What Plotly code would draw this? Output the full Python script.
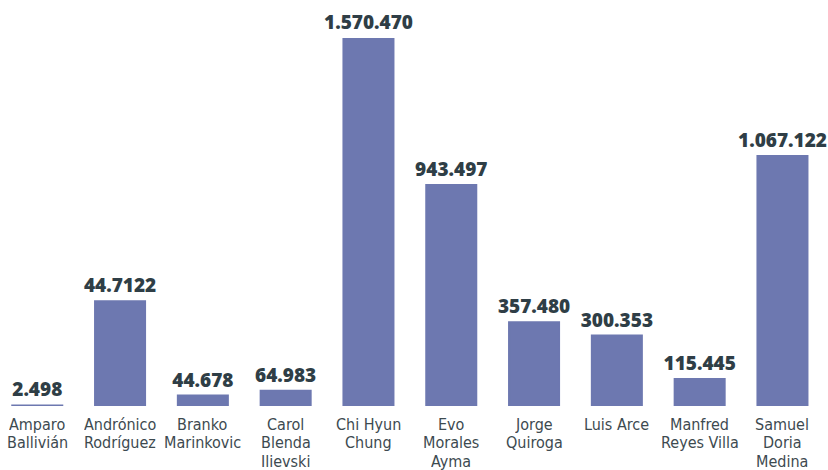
import plotly.graph_objects as go

candidatos = ["Amparo<br>Ballivián", "Andrónico<br>Rodríguez", "Branko<br>Marinkovic",
              "Carol<br>Blenda<br>Ilievski", "Chi Hyun<br>Chung", "Evo<br>Morales<br>Ayma",
              "Jorge<br>Quiroga", "Luis Arce", "Manfred<br>Reyes Villa", "Samuel<br>Doria<br>Medina"]
votos = [2498, 447122, 44678, 64983, 1570470, 943497, 357480, 300353, 115445, 1067122]
etiquetas = ["2.498", "44.7122", "44.678", "64.983", "1.570.470", "943.497",
             "357.480", "300.353", "115.445", "1.067.122"]

fig = go.Figure(go.Bar(
    x=candidatos, y=votos,
    text=etiquetas, textposition="outside", cliponaxis=False,
    textfont=dict(family="Open Sans", size=19, color="#2f3e46", weight=800),
    marker=dict(color="#6d78b0", line=dict(color="#6d78b0", width=2)),
    hoverinfo="skip",
))

# nombres debajo de cada barra, una linea por anotacion para un interlineado mas apretado
for c in candidatos:
    for j, linea in enumerate(c.split("<br>")):
        fig.add_annotation(x=c, y=0, xref="x", yref="y", yanchor="top",
                           text=linea, showarrow=False, height=18,
                           yshift=-7 - 18.3 * j,
                           font=dict(family="DejaVu Sans Condensed, Roboto",
                                     size=16, color="#3d4a50"))

fig.update_layout(
    width=828, height=470,
    margin=dict(l=0, r=0, t=38, b=64),
    paper_bgcolor="white", plot_bgcolor="white",
    bargap=0.396,
    showlegend=False,
    uniformtext=dict(minsize=19, mode="show"),
    xaxis=dict(range=[-0.45, 9.55], showgrid=False, showline=False, ticks="",
               automargin=False, showticklabels=False, fixedrange=True),
    yaxis=dict(range=[0, 1570470], visible=False, automargin=False, fixedrange=True),
)

fig.write_html("out.html", config={"displayModeBar": False},
               post_script="document.body.style.margin='0';")
